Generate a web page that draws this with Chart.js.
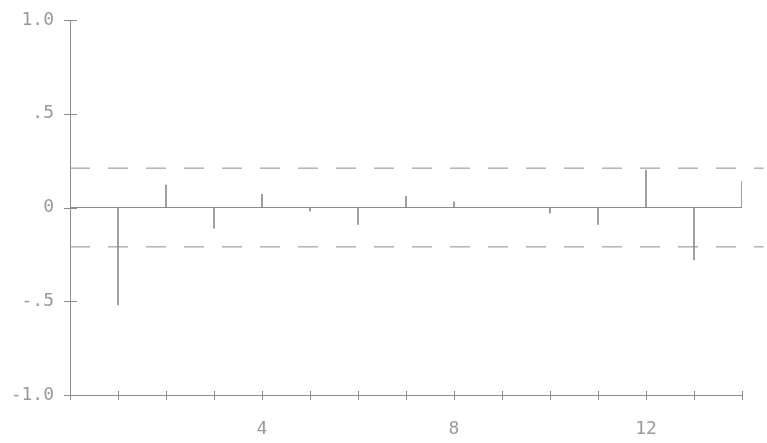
<!DOCTYPE html>
<html>
<head>
<meta charset="utf-8">
<script src="https://cdn.jsdelivr.net/npm/chart.js@4"></script>
<style>
  html, body { margin: 0; padding: 0; background: #fff; }
  #wrap { width: 767px; height: 443px; }
</style>
</head>
<body>
<div id="wrap"><canvas id="acf"></canvas></div>
<script>
// lags and correlation values
const lags = [1, 2, 3, 4, 5, 6, 7, 8, 9, 10, 11, 12, 13, 14];
const acfValues = [-0.52, 0.12, -0.11, 0.07, -0.02, -0.09, 0.06, 0.03, 0.0, -0.03, -0.09, 0.20, -0.28, 0.14];
const bandLimit = 0.21;
const yTickValues = [-1, -0.5, 0, 0.5, 1];
const yTickLabels = ['-1.0', '-.5', '0', '.5', '1.0'];
const xLabelled = [4, 8, 12];

const ink = '#8c8c8c';

// draws tick marks crossing the axes like the old plotter output
const crossTicks = {
    id: 'crossTicks',
    afterDraw(chart) {
        const ctx = chart.ctx;
        const xs = chart.scales.x, ys = chart.scales.y;
        ctx.save();
        ctx.strokeStyle = ink;
        ctx.lineWidth = 1;
        ctx.beginPath();
        yTickValues.forEach(v => {
            const py = Math.round(ys.getPixelForValue(v)) + 0.5;
            ctx.moveTo(xs.left - 6, py);
            ctx.lineTo(xs.left + 7, py);
        });
        for (let i = 0; i <= 14; i++) {
            const px = Math.round(xs.getPixelForValue(i)) + 0.5;
            ctx.moveTo(px, ys.bottom - 4);
            ctx.lineTo(px, ys.bottom + 5);
        }
        ctx.stroke();
        ctx.restore();
    }
};

new Chart(document.getElementById('acf'), {
    type: 'bar',
    data: {
        datasets: [
            {
                type: 'bar',
                data: lags.map((l, i) => ({ x: l, y: acfValues[i] })),
                backgroundColor: ink,
                barThickness: 1,
                borderWidth: 0
            },
            {
                type: 'line',
                data: [{ x: 0, y: 0 }, { x: 14, y: 0 }],
                borderColor: ink,
                borderWidth: 1,
                pointRadius: 0
            },
            {
                type: 'line',
                data: [{ x: 0, y: bandLimit }, { x: 14.45, y: bandLimit }],
                borderColor: ink,
                borderWidth: 1,
                borderDash: [20, 18],
                pointRadius: 0,
                clip: false
            },
            {
                type: 'line',
                data: [{ x: 0, y: -bandLimit }, { x: 14.45, y: -bandLimit }],
                borderColor: ink,
                borderWidth: 1,
                borderDash: [20, 18],
                pointRadius: 0,
                clip: false
            }
        ]
    },
    options: {
        responsive: true,
        maintainAspectRatio: false,
        animation: false,
        layout: { padding: { top: 20, right: 25, left: 0, bottom: 0 } },
        plugins: { legend: { display: false }, tooltip: { enabled: false } },
        scales: {
            x: {
                type: 'linear',
                min: 0,
                max: 14,
                offset: false,
                grid: { display: false },
                border: { color: ink, width: 1 },
                afterFit: s => { s.height = 48; },
                afterBuildTicks: s => { s.ticks = Array.from({ length: 15 }, (_, i) => ({ value: i })); },
                ticks: {
                    color: '#9a9a9a',
                    font: { family: 'DejaVu Sans Mono', size: 18 },
                    padding: 16,
                    maxRotation: 0,
                    autoSkip: false,
                    callback: v => xLabelled.includes(v) ? String(v) : ''
                }
            },
            y: {
                min: -1,
                max: 1,
                grid: { display: false },
                border: { color: ink, width: 1 },
                afterFit: s => { s.width = 70; },
                afterBuildTicks: s => { s.ticks = yTickValues.map(v => ({ value: v })); },
                ticks: {
                    color: '#9a9a9a',
                    font: { family: 'DejaVu Sans Mono', size: 18 },
                    padding: 8,
                    callback: v => yTickLabels[yTickValues.indexOf(v)]
                }
            }
        }
    },
    plugins: [crossTicks]
});
</script>
</body>
</html>
